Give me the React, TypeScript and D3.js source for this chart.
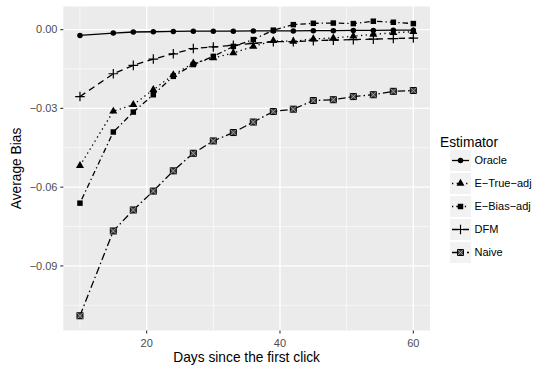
import React from 'react';
import { scaleLinear, line, symbol, symbolCircle, symbolTriangle, symbolSquare } from 'd3';

// days since the first click
const days = [10, 15, 18, 21, 24, 27, 30, 33, 36, 39, 42, 45, 48, 51, 54, 57, 60];

const oracle = [-0.0022, -0.0013, -0.0009, -0.0008, -0.0007, -0.0006, -0.0006, -0.0006, -0.0005, -0.0005, -0.0005, -0.0004, -0.0004, -0.0003, -0.0003, -0.0002, -0.0002];
const eTrueAdj = [-0.0518, -0.0311, -0.0286, -0.0229, -0.0172, -0.0128, -0.0108, -0.0089, -0.0064, -0.0042, -0.0045, -0.0035, -0.0032, -0.0025, -0.0018, -0.0012, -0.0008];
const eBiasAdj = [-0.0661, -0.039, -0.0314, -0.0248, -0.0178, -0.0133, -0.0102, -0.0064, -0.0038, -0.0002, 0.0019, 0.0024, 0.0025, 0.0023, 0.0032, 0.0028, 0.0023];
const dfm = [-0.0255, -0.0168, -0.0136, -0.0112, -0.0092, -0.0072, -0.0066, -0.006, -0.0052, -0.0046, -0.0046, -0.0042, -0.004, -0.0038, -0.0036, -0.0034, -0.0032];
const naive = [-0.109, -0.0767, -0.0687, -0.0615, -0.0538, -0.0471, -0.0424, -0.0392, -0.0352, -0.0312, -0.0303, -0.027, -0.0267, -0.0255, -0.0248, -0.0235, -0.0232];

const yTicks = [0, -0.03, -0.06, -0.09];
const yMinor = [-0.015, -0.045, -0.075, -0.105];
const xTicks = [20, 40, 60];
const xMinor = [10, 30, 50];

const series = [
  { name: 'Oracle', values: oracle, dash: undefined, shape: 'circle' },
  { name: 'E\u2212True\u2212adj', values: eTrueAdj, dash: '1.3 3.4', shape: 'triangle' },
  { name: 'E\u2212Bias\u2212adj', values: eBiasAdj, dash: '1.3 3 5.5 3', shape: 'square' },
  { name: 'DFM', values: dfm, dash: '6.5 4.5', shape: 'plus' },
  { name: 'Naive', values: naive, dash: '7.5 3 1.5 3', shape: 'squarex' },
];

const W = 545, H = 373;
const panel = { left: 63.3, right: 430, top: 6.5, bottom: 330.5 };
const font = '"Liberation Sans", Arial, Helvetica, sans-serif';

const allY = series.flatMap(s => s.values);
const yLo = Math.min(...allY), yHi = Math.max(...allY);
const yPad = (yHi - yLo) * 0.05;
const xPad = (days[days.length - 1] - days[0]) * 0.05;

const x = scaleLinear().domain([days[0] - xPad, days[days.length - 1] + xPad]).range([panel.left, panel.right]);
const y = scaleLinear().domain([yLo - yPad, yHi + yPad]).range([panel.bottom, panel.top]);

function Marker({ shape, cx, cy }: { shape: string; cx: number; cy: number }) {
  if (shape === 'plus') {
    return <path d={`M${cx - 4.8},${cy}H${cx + 4.8}M${cx},${cy - 4.8}V${cy + 4.8}`} stroke="black" strokeWidth={1.2} fill="none" />;
  }
  if (shape === 'squarex') {
    const r = 3;
    return (
      <g stroke="black" strokeWidth={1} fill="#444">
        <rect x={cx - r} y={cy - r} width={2 * r} height={2 * r} />
        <path d={`M${cx - r},${cy - r}L${cx + r},${cy + r}M${cx + r},${cy - r}L${cx - r},${cy + r}`} stroke="#bbb" strokeWidth={0.7} />
      </g>
    );
  }
  const type = shape === 'circle' ? symbolCircle : shape === 'triangle' ? symbolTriangle : symbolSquare;
  const size = shape === 'circle' ? 24 : shape === 'triangle' ? 28 : 30;
  return <path d={symbol().type(type).size(size)() as string} transform={`translate(${cx},${cy})`} fill="black" />;
}

export default function App() {
  const path = line<number>().x((_, i) => x(days[i])).y(d => y(d));
  const legX = 440, legY = 149, keyH = 23;

  return (
    <svg width={W} height={H} style={{ position: 'absolute', left: 0, top: 0, background: 'white' }} fontFamily={font}>
      <rect x={panel.left} y={panel.top} width={panel.right - panel.left} height={panel.bottom - panel.top} fill="#ebebeb" />
      {yMinor.map(v => (
        <line key={'ym' + v} x1={panel.left} x2={panel.right} y1={y(v)} y2={y(v)} stroke="white" strokeWidth={0.6} />
      ))}
      {xMinor.map(v => (
        <line key={'xm' + v} y1={panel.top} y2={panel.bottom} x1={x(v)} x2={x(v)} stroke="white" strokeWidth={0.6} />
      ))}
      {yTicks.map(v => (
        <line key={'yM' + v} x1={panel.left} x2={panel.right} y1={y(v)} y2={y(v)} stroke="white" strokeWidth={1.3} />
      ))}
      {xTicks.map(v => (
        <line key={'xM' + v} y1={panel.top} y2={panel.bottom} x1={x(v)} x2={x(v)} stroke="white" strokeWidth={1.3} />
      ))}

      {series.map(s => (
        <g key={s.name}>
          <path d={path(s.values) as string} fill="none" stroke="black" strokeWidth={1.3} strokeDasharray={s.dash} />
          {s.values.map((v, i) => (
            <Marker key={i} shape={s.shape} cx={x(days[i])} cy={y(v)} />
          ))}
        </g>
      ))}

      {yTicks.map(v => (
        <g key={'yt' + v}>
          <line x1={panel.left - 3} x2={panel.left} y1={y(v)} y2={y(v)} stroke="#333" strokeWidth={1.1} />
          <text x={panel.left - 5.8} y={y(v)} dy="0.35em" textAnchor="end" fontSize={11} fill="#4d4d4d">
            {v === 0 ? '0.00' : '\u2212' + Math.abs(v).toFixed(2)}
          </text>
        </g>
      ))}
      {xTicks.map(v => (
        <g key={'xt' + v}>
          <line y1={panel.bottom} y2={panel.bottom + 3} x1={x(v)} x2={x(v)} stroke="#333" strokeWidth={1.1} />
          <text x={x(v)} y={panel.bottom + 16.5} textAnchor="middle" fontSize={11} fill="#4d4d4d">{v}</text>
        </g>
      ))}

      <text x={(panel.left + panel.right) / 2} y={362} textAnchor="middle" fontSize={13.75}>Days since the first click</text>
      <text transform={`translate(21,${(panel.top + panel.bottom) / 2}) rotate(-90)`} textAnchor="middle" fontSize={13.75}>Average Bias</text>

      <text x={legX} y={legY - 2} fontSize={13.75}>Estimator</text>
      {series.map((s, i) => {
        const ky = legY + i * keyH;
        const cy = ky + keyH / 2;
        return (
          <g key={'leg' + s.name}>
            <rect x={legX + 10} y={cy - 10.5} width={21} height={21} fill="#f2f2f2" />
            <line x1={legX + 12} x2={legX + 29} y1={cy} y2={cy} stroke="black" strokeWidth={1.3} strokeDasharray={s.dash} />
            <Marker shape={s.shape} cx={legX + 20.5} cy={cy} />
            <text x={legX + 34.5} y={cy} dy="0.35em" fontSize={11}>{s.name}</text>
          </g>
        );
      })}
    </svg>
  );
}
